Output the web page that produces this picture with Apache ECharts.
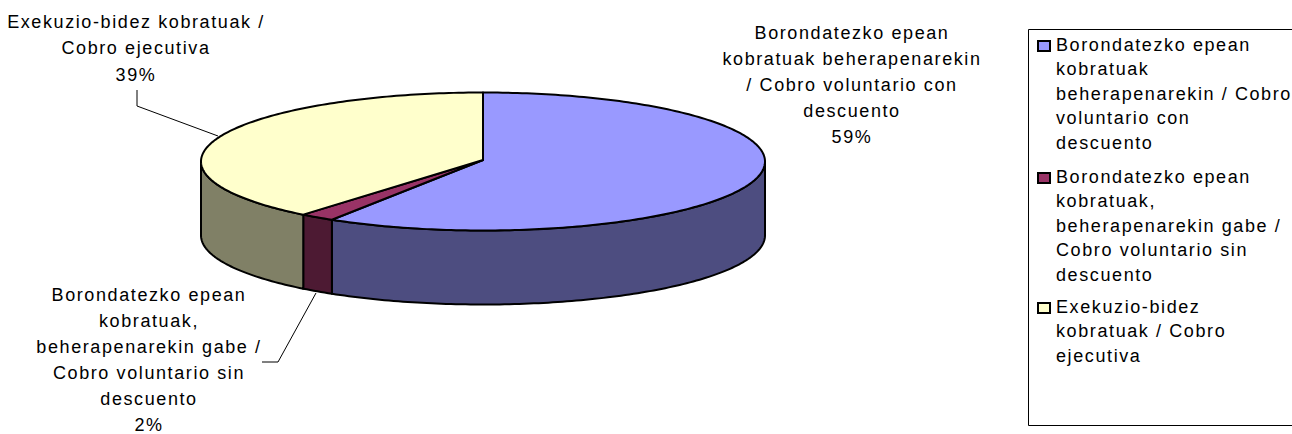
<!DOCTYPE html>
<html>
<head>
<meta charset="utf-8">
<style>html,body{margin:0;padding:0;background:#fff}#c{width:1292px;height:434px}#c text{letter-spacing:1.6px}</style>
<script src="https://cdn.jsdelivr.net/npm/echarts@6/dist/echarts.min.js"></script>
</head>
<body>
<div id="c"></div>
<script>
// ---- data ----
const values = [59, 2, 39];
const categories = [
  'Borondatezko epean kobratuak beherapenarekin / Cobro voluntario con descuento',
  'Borondatezko epean kobratuak, beherapenarekin gabe / Cobro voluntario sin descuento',
  'Exekuzio-bidez kobratuak / Cobro ejecutiva'
];
const legendLines = [
  ['Borondatezko epean', 'kobratuak', 'beherapenarekin / Cobro', 'voluntario con', 'descuento'],
  ['Borondatezko epean', 'kobratuak,', 'beherapenarekin gabe /', 'Cobro voluntario sin', 'descuento'],
  ['Exekuzio-bidez', 'kobratuak / Cobro', 'ejecutiva']
];
const labelLines = [
  ['Borondatezko epean', 'kobratuak beherapenarekin', '/ Cobro voluntario con', 'descuento'],
  ['Borondatezko epean', 'kobratuak,', 'beherapenarekin gabe /', 'Cobro voluntario sin', 'descuento'],
  ['Exekuzio-bidez kobratuak /', 'Cobro ejecutiva']
];

// ---- styles & layout ----
const topColors = ['#9999FF', '#993366', '#FFFFCC'];
const sideColors = ['#4D4D80', '#4D1A33', '#808066'];
const FONT = '18px "Liberation Sans", Arial, sans-serif';
const pie = {cx: 483, cy: 161.5, rx: 282, ry: 69, depth: 74};
const labelPos = [
  {x: 852, y: 33, step: 26},
  {x: 149, y: 294.5, step: 26},
  {x: 136, y: 22, step: 26.4}
];
const leaders = [
  null,
  [[262, 362], [278, 362], [316, 293]],
  [[137, 90], [137, 106], [218, 136]]
];
const legendBox = {x: 1028.5, y: 29.5, width: 280, height: 396};
const legendRows = [45, 177, 307];
const legendStep = 24.4;

const total = values.reduce((a, b) => a + b, 0);
const pt = (deg, dy) => {
  const r = deg * Math.PI / 180;
  return [pie.cx + pie.rx * Math.sin(r), pie.cy - pie.ry * Math.cos(r) + (dy || 0)];
};
function arc(a, b, dy) {
  const pts = [];
  const n = Math.max(2, Math.ceil(Math.abs(b - a)));
  for (let i = 0; i <= n; i++) pts.push(pt(a + (b - a) * i / n, dy));
  return pts;
}
function renderSlice(params, api) {
  const idx = params.dataIndex;
  let before = 0;
  for (let i = 0; i < idx; i++) before += values[i];
  const a0 = before / total * 360;
  const a1 = (before + api.value(0)) / total * 360;
  const children = [];
  // visible wall: front half of the rim only
  const s0 = Math.max(a0, 90), s1 = Math.min(a1, 270);
  if (s1 > s0) {
    const wall = arc(s0, s1, 0).concat(arc(s1, s0, pie.depth));
    children.push({type: 'polygon', z2: 1, shape: {points: wall},
      style: {fill: sideColors[idx], stroke: '#000', lineWidth: 2, lineJoin: 'round'}});
  }
  const top = [[pie.cx, pie.cy - 1.5]].concat(arc(a0, a1, 0));
  children.push({type: 'polygon', z2: 2, shape: {points: top},
    style: {fill: topColors[idx], stroke: '#000', lineWidth: 2, lineJoin: 'round'}});
  // data label
  const lp = labelPos[idx];
  const lines = labelLines[idx].concat([Math.round(api.value(0) / total * 100) + '%']);
  lines.forEach((t, i) => children.push({type: 'text', z2: 5,
    style: {text: t, x: lp.x, y: lp.y + i * lp.step, font: FONT, fill: '#000',
      align: 'center', verticalAlign: 'middle'}}));
  if (leaders[idx]) children.push({type: 'polyline', z2: 0, shape: {points: leaders[idx]},
    style: {stroke: '#000', lineWidth: 1, fill: null}});
  return {type: 'group', children};
}

// ---- legend built from the same arrays ----
const legendEls = [{type: 'rect', shape: {x: legendBox.x, y: legendBox.y, width: legendBox.width, height: legendBox.height},
  style: {fill: '#fff', stroke: '#000', lineWidth: 1}}];
legendLines.forEach((lines, i) => {
  legendEls.push({type: 'rect', shape: {x: 1038, y: legendRows[i] - 4, width: 12, height: 10},
    style: {fill: topColors[i], stroke: '#000', lineWidth: 2}});
  lines.forEach((t, j) => legendEls.push({type: 'text',
    style: {text: t, x: 1056, y: legendRows[i] + j * legendStep, font: FONT, fill: '#000', verticalAlign: 'middle'}}));
});

const chart = echarts.init(document.getElementById('c'), null, {renderer: 'svg'});
chart.setOption({
  animation: false,
  backgroundColor: '#fff',
  tooltip: {show: false},
  graphic: legendEls,
  series: [{
    type: 'custom',
    coordinateSystem: 'none',
    silent: true,
    renderItem: renderSlice,
    data: values.map((v, i) => ({name: categories[i], value: [v]}))
  }]
});
</script>
</body>
</html>
